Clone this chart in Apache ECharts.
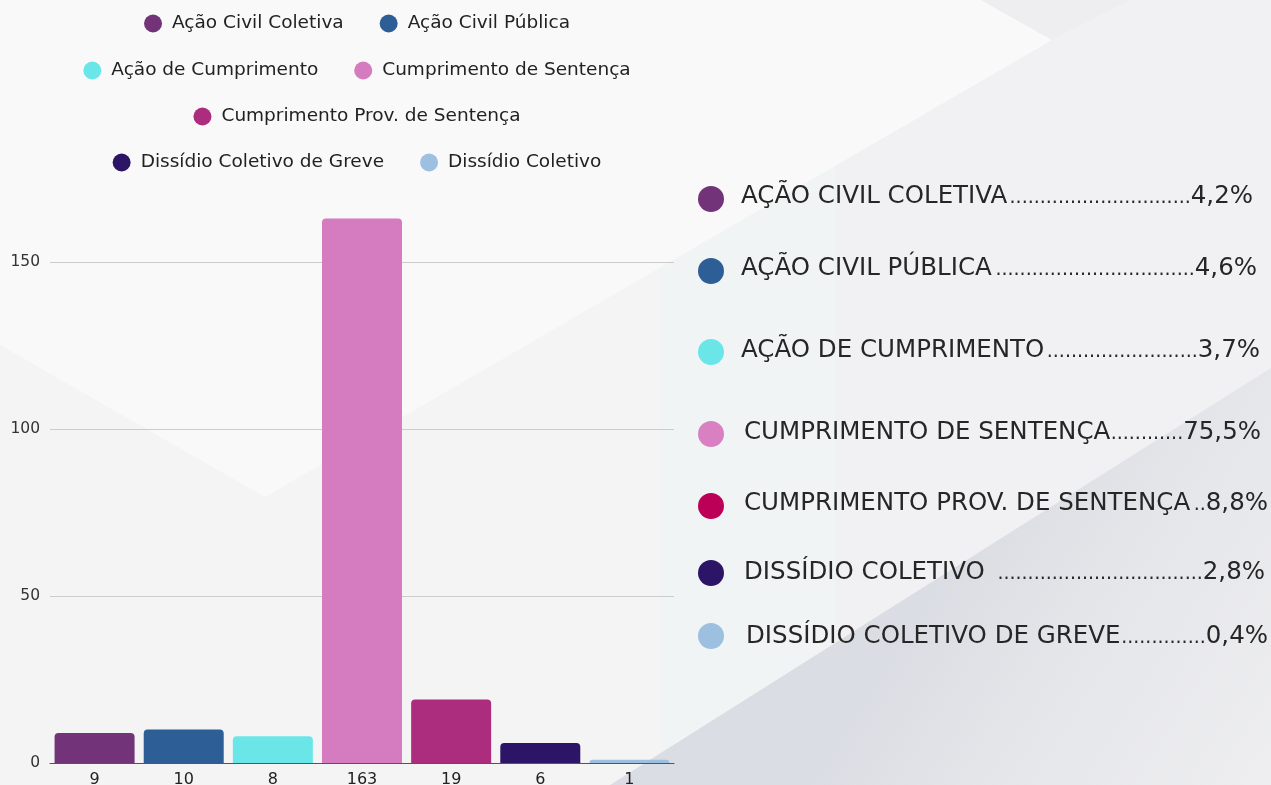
<!DOCTYPE html>
<html>
<head>
<meta charset="utf-8">
<script src="https://cdn.jsdelivr.net/npm/echarts@6/dist/echarts.min.js"></script>
<style>
  html, body { margin: 0; padding: 0; background: #f4f4f4; }
  #chart { width: 1271px; height: 785px; }
</style>
</head>
<body>
<div id="chart"></div>
<script>
// bar chart data
const seriesNames = ['Ação Civil Coletiva', 'Ação Civil Pública', 'Ação de Cumprimento', 'Cumprimento de Sentença',
  'Cumprimento Prov. de Sentença', 'Dissídio Coletivo de Greve', 'Dissídio Coletivo'];
const counts = [9, 10, 8, 163, 19, 6, 1];
const barColors = ['#733378', '#2e5e96', '#6be6e8', '#d57cc0', '#ac2d7e', '#2c1466', '#9dbfe0'];
const legendRows = [[0, 1], [2, 3], [4], [5, 6]];

// percentage list on the right
const listNames = ['AÇÃO CIVIL COLETIVA', 'AÇÃO CIVIL PÚBLICA', 'AÇÃO DE CUMPRIMENTO', 'CUMPRIMENTO DE SENTENÇA',
  'CUMPRIMENTO PROV. DE SENTENÇA', 'DISSÍDIO COLETIVO ', 'DISSÍDIO COLETIVO DE GREVE'];
const listPercents = ['4,2%', '4,6%', '3,7%', '75,5%', '8,8%', '2,8%', '0,4%'];
const listColors = ['#733378', '#2e5e96', '#6be6e8', '#d880c2', '#bc0058', '#2c1466', '#9dbfe0'];

// layout of the list (px)
const listCircleY = [199, 271, 352, 434, 506, 573, 636];
const listTextY = [196.5, 268.5, 350.5, 432.5, 503.5, 572.5, 636.5];
const listTextX = [741, 741, 741, 744, 744, 744, 746];
const listRight = [1253, 1257, 1260, 1261, 1268, 1265, 1268];
const legendTops = [14, 61, 107, 153];

const chart = echarts.init(document.getElementById('chart'));

// measure text to center each legend row and fill the dot leaders
const ctx = document.createElement('canvas').getContext('2d');
function textWidth(s, font) { ctx.font = font; return ctx.measureText(s).width; }

const FONT = '"DejaVu Sans"';
const legendSize = 18.5;
const legendFont = legendSize + 'px ' + FONT;
const legendCenter = 357;
const legends = legendRows.map(function (row, r) {
  let w = 0;
  row.forEach(function (i, k) {
    w += 18 + 10 + textWidth(seriesNames[i], legendFont);
    if (k > 0) w += 36;
  });
  return {
    data: row.map(function (i) { return seriesNames[i]; }),
    left: legendCenter - w / 2,
    top: legendTops[r],
    icon: 'circle',
    itemWidth: 18,
    itemHeight: 18,
    itemGap: 36,
    selectedMode: false,
    padding: 0,
    textStyle: { fontFamily: 'DejaVu Sans', fontSize: legendSize, color: '#222', padding: [0, 0, 0, 5] }
  };
});

const listFont = '24.5px ' + FONT;
const dotFont = '19px ' + FONT;
const listItems = [];
listNames.forEach(function (name, i) {
  const nameW = textWidth(name, listFont);
  const pctW = textWidth(listPercents[i], listFont);
  const dotW = textWidth('.', dotFont);
  const pctStart = listRight[i] - pctW;
  const n = Math.max(0, Math.floor((pctStart - listTextX[i] - nameW) / dotW));
  listItems.push(
    { type: 'circle', shape: { cx: 711, cy: listCircleY[i], r: 13 }, style: { fill: listColors[i] } },
    { type: 'text', x: listTextX[i], y: listTextY[i],
      style: { text: name, font: listFont, fill: '#262626', verticalAlign: 'middle' } },
    // smaller dots sit on the same baseline as the name
    { type: 'text', x: pctStart, y: listTextY[i] + 1.7,
      style: { text: '.'.repeat(n), font: dotFont, fill: '#262626', verticalAlign: 'middle', align: 'right' } },
    { type: 'text', x: listRight[i], y: listTextY[i],
      style: { text: listPercents[i], font: listFont, fill: '#262626', verticalAlign: 'middle', align: 'right' } }
  );
});

// soft geometric background
const background = [
  { type: 'rect', shape: { x: 660, y: 0, width: 175, height: 785 }, style: { fill: '#f1f4f4' }, z: -20 },
  { type: 'rect', shape: { x: 835, y: 0, width: 436, height: 785 }, style: { fill: '#f1f1f3' }, z: -20 },
  { type: 'polygon', shape: { points: [[0, 0], [981, 0], [1052, 40], [265, 497], [0, 345]] },
    style: { fill: '#f9f9f9' }, z: -19 },
  { type: 'polygon', shape: { points: [[981, 0], [1130, 0], [1052, 40]] }, style: { fill: '#eeeef0' }, z: -19 },
  { type: 'polygon', shape: { points: [[610, 785], [1271, 368], [1271, 785]] },
    style: { fill: new echarts.graphic.LinearGradient(0.5, 0.5, 1, 1, [
      { offset: 0, color: '#dadde3' }, { offset: 0.4, color: '#e5e6ea' }, { offset: 1, color: '#eeeef0' }]) },
    z: -19 }
];
background.forEach(function (el) { el.silent = true; });

const series = seriesNames.map(function (name, i) {
  return {
    name: name,
    type: 'bar',
    stack: 'total',
    clip: false,
    barWidth: 80,
    data: counts.map(function (v, j) { return j === i ? v : '-'; }),
    itemStyle: { color: barColors[i], borderRadius: [4, 4, 0, 0] }
  };
});

chart.setOption({
  backgroundColor: '#f4f4f4',
  animation: false,
  legend: legends,
  grid: { left: 50, right: 597, top: 262, bottom: 22, outerBoundsMode: 'none', containLabel: false },
  xAxis: {
    type: 'category',
    data: seriesNames,
    axisTick: { show: false },
    axisLine: { lineStyle: { color: '#555', width: 1 } },
    axisLabel: {
      margin: 9, fontFamily: 'DejaVu Sans', fontSize: 16, color: '#222',
      formatter: function (v, i) { return String(counts[i]); }
    }
  },
  yAxis: {
    type: 'value',
    min: 0,
    max: 150,
    interval: 50,
    axisLine: { show: false },
    axisTick: { show: false },
    axisLabel: { margin: 10, fontFamily: 'DejaVu Sans', fontSize: 15.5, color: '#333' },
    splitLine: { lineStyle: { color: '#cccccc', width: 1 } }
  },
  graphic: background.concat(listItems),
  series: series
});
</script>
</body>
</html>
